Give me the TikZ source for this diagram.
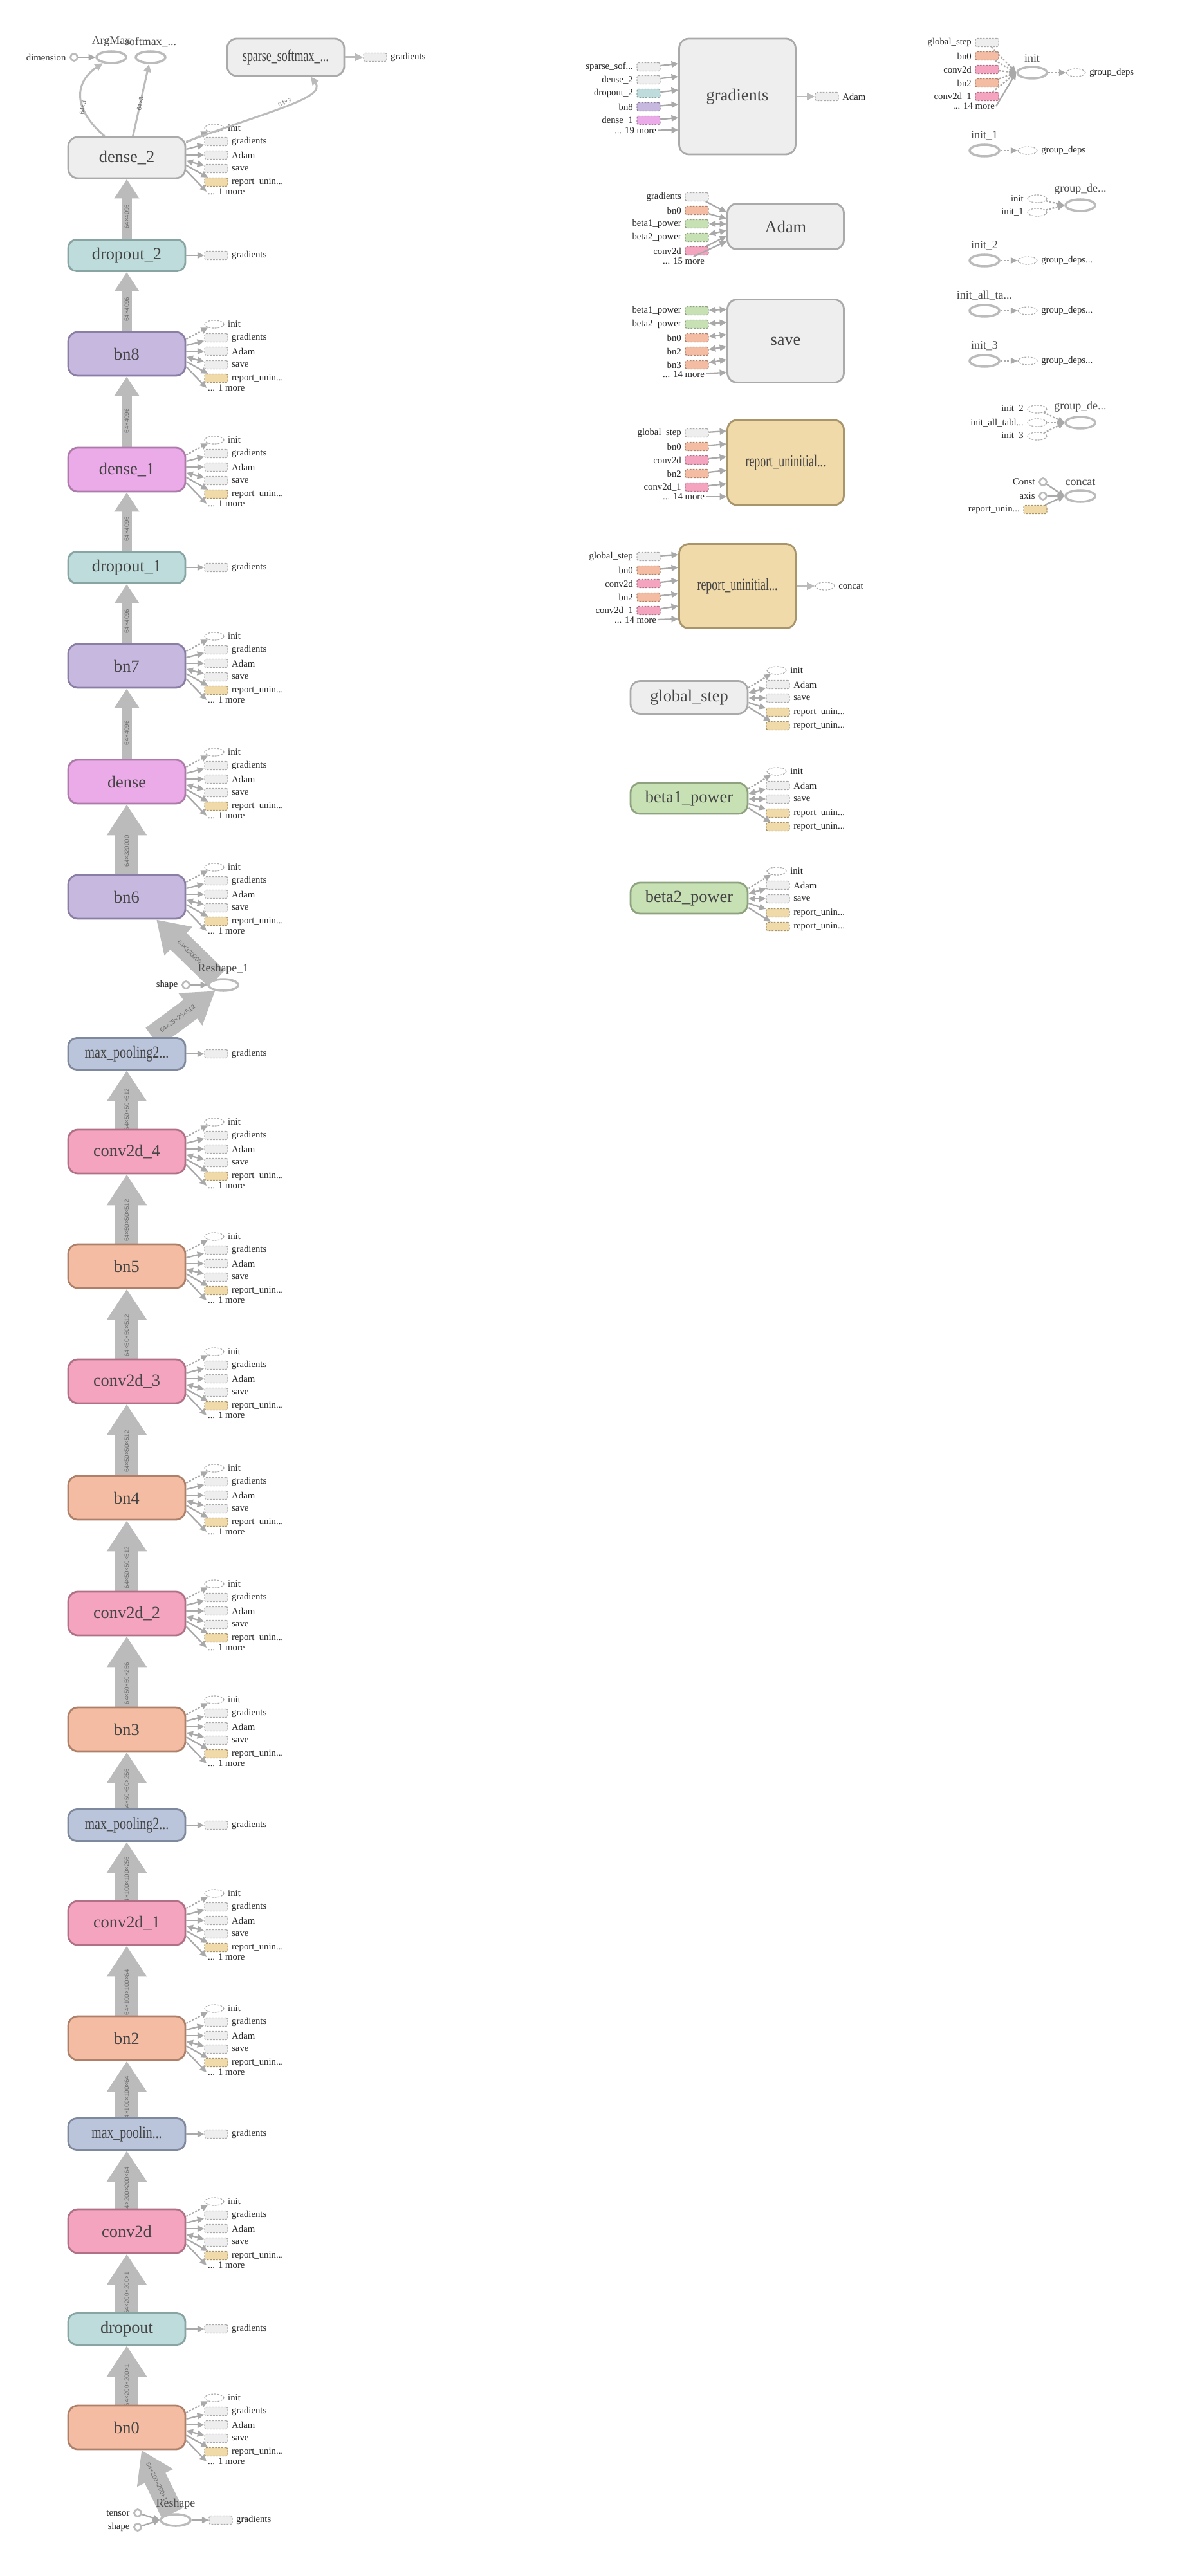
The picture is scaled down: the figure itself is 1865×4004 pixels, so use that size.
\documentclass[tikz,border=0pt]{standalone}
\usepackage{fontspec}
\setmainfont{Liberation Serif}
\newfontfamily\edgesans{Liberation Sans}
\usepackage{graphicx}
\usetikzlibrary{arrows.meta,shapes.geometric}

\definecolor{opgray}{HTML}{EEEEEE}
\definecolor{opgrayline}{HTML}{AAAAAA}
\definecolor{dropfill}{HTML}{BEDCDB}
\definecolor{dropline}{HTML}{88A5A4}
\definecolor{bnfill}{HTML}{F4BDA3}
\definecolor{bnline}{HTML}{AE8069}
\definecolor{bnlatefill}{HTML}{C7B8E0}
\definecolor{bnlateline}{HTML}{8B7EA5}
\definecolor{densefill}{HTML}{EBAAE8}
\definecolor{denseline}{HTML}{AD7BA9}
\definecolor{convfill}{HTML}{F4A4BE}
\definecolor{convline}{HTML}{B07186}
\definecolor{poolfill}{HTML}{BAC5DC}
\definecolor{poolline}{HTML}{7F899D}
\definecolor{repfill}{HTML}{F0DAA9}
\definecolor{repline}{HTML}{A8956B}
\definecolor{betafill}{HTML}{C7E1B5}
\definecolor{betaline}{HTML}{8EA27F}
\definecolor{flowgray}{HTML}{BBBBBB}
\definecolor{tipgray}{HTML}{A9A9A9}
\definecolor{labelgray}{HTML}{444444}

\pgfdeclarelayer{flows}
\pgfsetlayers{flows,main}

\newcommand\squeeze[2]{\scalebox{#1}[1]{#2}}

\tikzset{
  opbox/.style={draw=opgrayline, fill=opgray, rounded corners=0.3cm, line width=1.6pt,
    minimum width=3.64cm, minimum height=1.36cm, inner sep=0pt, text=labelgray,
    font=\fontsize{15}{18}\selectfont},
  flat/.style={minimum height=0.98cm, rounded corners=0.26cm},
  dropbox/.style={opbox, flat, fill=dropfill, draw=dropline},
  bnbox/.style={opbox, fill=bnfill, draw=bnline},
  bnlate/.style={opbox, fill=bnlatefill, draw=bnlateline},
  densebox/.style={opbox, fill=densefill, draw=denseline},
  convbox/.style={opbox, fill=convfill, draw=convline},
  poolbox/.style={opbox, flat, fill=poolfill, draw=poolline},
  repbox/.style={opbox, fill=repfill, draw=repline},
  betabox/.style={opbox, fill=betafill, draw=betaline, minimum height=0.96cm},
  opring/.style={ellipse, draw=flowgray, line width=2pt, fill=white,
    minimum width=0.92cm, minimum height=0.36cm, inner sep=0pt},
  constring/.style={circle, draw=flowgray, line width=1.6pt, fill=white,
    minimum size=0.22cm, inner sep=0pt},
  tag/.style={draw=opgrayline, fill=opgray, dash pattern=on 1.6pt off 1.1pt,
    line width=0.7pt, rounded corners=1.5pt, minimum width=0.72cm,
    minimum height=0.26cm, inner sep=0pt},
  bntag/.style={tag, fill=bnfill, draw=bnline},
  lavtag/.style={tag, fill=bnlatefill, draw=bnlateline},
  densetag/.style={tag, fill=densefill, draw=denseline},
  convtag/.style={tag, fill=convfill, draw=convline},
  droptag/.style={tag, fill=dropfill, draw=dropline},
  reptag/.style={tag, fill=repfill, draw=repline},
  betatag/.style={tag, fill=betafill, draw=betaline},
  ghost/.style={ellipse, draw=opgrayline, fill=white, dash pattern=on 1.6pt off 1.1pt,
    line width=0.7pt, minimum width=0.6cm, minimum height=0.24cm, inner sep=0pt},
  sidetext/.style={font=\fontsize{8.4}{10}\selectfont, inner sep=1pt, text=black!85},
  ringtext/.style={font=\fontsize{10.2}{12}\selectfont, inner sep=1pt, text=black!70},
  edgetext/.style={font=\edgesans\fontsize{5.5}{6}\selectfont, inner sep=0pt, text=black!58},
  fat/.style={draw=flowgray, line width=0.72cm, -{Triangle[width=1.18cm, length=0.96cm]}},
  slim/.style={draw=flowgray, line width=0.32cm, -{Triangle[width=0.74cm, length=0.6cm]}},
  flow/.style={draw=tipgray, line width=1.3pt, -{Triangle[length=6pt, width=5.5pt]}},
  both/.style={flow, {Triangle[length=6pt, width=5.5pt]}-{Triangle[length=6pt, width=5.5pt]}},
  dep/.style={flow, dash pattern=on 1.6pt off 1.4pt},
  output/.style={draw=flowgray, line width=1.7pt, -{Triangle[length=7pt, width=6.5pt]}},
}

% variable outputs beside a main-column op
\newcommand\varitems[2]{%
  \node[ghost, label={[sidetext]right:init}] (#1-init) at (333,{#2-46}) {};
  \node[tag, label={[sidetext]right:gradients}] (#1-grad) at (336,{#2-25}) {};
  \node[tag, label={[sidetext]right:Adam}] (#1-adam) at (336,{#2-4}) {};
  \node[tag, label={[sidetext]right:save}] (#1-save) at (336,{#2+17}) {};
  \node[reptag, label={[sidetext]right:report\_unin...}] (#1-rep) at (336,{#2+38}) {};
  \node[sidetext, anchor=west] (#1-more) at (321,{#2+53}) {... 1 more};
  \draw[dep] ([shift={(0,-23)}]#1.east) -- (#1-init);
  \draw[flow] ([shift={(0,-13)}]#1.east) -- (#1-grad);
  \draw[flow] ([shift={(0,-4)}]#1.east) -- (#1-adam);
  \draw[both] ([shift={(0,5)}]#1.east) -- (#1-save);
  \draw[flow] ([shift={(0,12)}]#1.east) -- (#1-rep);
  \draw[flow] ([shift={(0,20)}]#1.east) -- (#1-more.west);
}

% outputs of the counters in the middle column
\newcommand\stepitems[2]{%
  \node[ghost, label={[sidetext]right:init}] (#1-init) at (1207,{#2-42}) {};
  \node[tag, label={[sidetext]right:Adam}] (#1-adam) at (1209,{#2-20}) {};
  \node[tag, label={[sidetext]right:save}] (#1-save) at (1209,{#2+1}) {};
  \node[reptag, label={[sidetext]right:report\_unin...}] (#1-repa) at (1209,{#2+23}) {};
  \node[reptag, label={[sidetext]right:report\_unin...}] (#1-repb) at (1209,{#2+44}) {};
  \draw[dep] ([shift={(0,-15)}]#1.east) -- (#1-init);
  \draw[both] ([shift={(0,-7)}]#1.east) -- (#1-adam);
  \draw[both] ([shift={(0,1)}]#1.east) -- (#1-save);
  \draw[flow] ([shift={(0,8)}]#1.east) -- (#1-repa);
  \draw[flow] ([shift={(0,15)}]#1.east) -- (#1-repb);
}

\begin{document}
\begin{tikzpicture}[x=0.02cm, y=-0.02cm, label distance=2pt]
    \useasboundingbox (0,0) rectangle (1865,4004);

    % Main column, bottom up
    \node[bnbox] (bn0) at (197,3773) {bn0};
    \node[dropbox] (dropout) at (197,3620) {dropout};
    \node[convbox] (conv2d) at (197,3468) {conv2d};
    \node[poolbox] (poolA) at (197,3317) {\squeeze{0.75}{max\_poolin...}};
    \node[bnbox] (bn2) at (197,3168) {bn2};
    \node[convbox] (conv2d1) at (197,2989) {conv2d\_1};
    \node[poolbox] (poolB) at (197,2837) {\squeeze{0.76}{max\_pooling2...}};
    \node[bnbox] (bn3) at (197,2688) {bn3};
    \node[convbox] (conv2d2) at (197,2508) {conv2d\_2};
    \node[bnbox] (bn4) at (197,2328) {bn4};
    \node[convbox] (conv2d3) at (197,2147) {conv2d\_3};
    \node[bnbox] (bn5) at (197,1968) {bn5};
    \node[convbox] (conv2d4) at (197,1790) {conv2d\_4};
    \node[poolbox] (poolC) at (197,1638) {\squeeze{0.76}{max\_pooling2...}};
    \node[bnlate] (bn6) at (197,1394) {bn6};
    \node[densebox] (dense) at (197,1215) {dense};
    \node[bnlate] (bn7) at (197,1035) {bn7};
    \node[dropbox] (dropout1) at (197,882) {dropout\_1};
    \node[densebox] (dense1) at (197,730) {dense\_1};
    \node[bnlate] (bn8) at (197,550) {bn8};
    \node[dropbox] (dropout2) at (197,397) {dropout\_2};
    \node[opbox, minimum height=1.28cm] (dense2) at (197,245) {dense\_2};

    % Reshape ops
    \node[opring, label={[ringtext]above:Reshape}] (reshape) at (273,3917) {};
    \node[constring, label={[sidetext]left:tensor}] (tensor) at (214,3906) {};
    \node[constring, label={[sidetext]left:shape}] (shape) at (214,3928) {};
    \node[tag, label={[sidetext]right:gradients}] (reshape-grad) at (343,3917) {};
    \draw[flow] (tensor) -- (reshape.west);
    \draw[flow] (shape) -- (reshape.west);
    \draw[flow] (reshape) -- (reshape-grad);

    \node[opring, label={[ringtext]above:Reshape\_1}] (reshape1) at (347,1531) {};
    \node[constring, label={[sidetext]left:shape}] (shape1) at (289,1531) {};
    \draw[flow] (shape1) -- (reshape1);

    % Tensor flow, kept under the labels
    \begin{pgfonlayer}{flows}
    \draw[fat] (reshape) -- ([shift={(23,0)}]bn0.south) node[edgetext, pos=0.5, sloped] {64×200×200×1};
    \draw[fat] (bn0) -- (dropout) node[edgetext, pos=0.33, rotate=90] {64×200×200×1};
    \draw[fat] (dropout) -- (conv2d) node[edgetext, pos=0.33, rotate=90] {64×200×200×1};
    \draw[fat] (conv2d) -- (poolA) node[edgetext, pos=0.33, rotate=90] {64×200×200×64};
    \draw[fat] (poolA) -- (bn2) node[edgetext, pos=0.33, rotate=90] {64×100×100×64};
    \draw[fat] (bn2) -- (conv2d1) node[edgetext, pos=0.33, rotate=90] {64×100×100×64};
    \draw[fat] (conv2d1) -- (poolB) node[edgetext, pos=0.33, rotate=90] {64×100×100×256};
    \draw[fat] (poolB) -- (bn3) node[edgetext, pos=0.33, rotate=90] {64×50×50×256};
    \draw[fat] (bn3) -- (conv2d2) node[edgetext, pos=0.33, rotate=90] {64×50×50×256};
    \draw[fat] (conv2d2) -- (bn4) node[edgetext, pos=0.33, rotate=90] {64×50×50×512};
    \draw[fat] (bn4) -- (conv2d3) node[edgetext, pos=0.33, rotate=90] {64×50×50×512};
    \draw[fat] (conv2d3) -- (bn5) node[edgetext, pos=0.33, rotate=90] {64×50×50×512};
    \draw[fat] (bn5) -- (conv2d4) node[edgetext, pos=0.33, rotate=90] {64×50×50×512};
    \draw[fat] (conv2d4) -- (poolC) node[edgetext, pos=0.33, rotate=90] {64×50×50×512};
    \draw[fat] ([shift={(40,0)}]poolC.north) -- (reshape1) node[edgetext, pos=0.4, sloped] {64×25×25×512};
    \draw[fat] (reshape1) -- ([shift={(46,0)}]bn6.south) node[edgetext, pos=0.45, sloped] {64×320000};
    \draw[fat] (bn6) -- (dense) node[edgetext, pos=0.33, rotate=90] {64×320000};
    \draw[slim] (dense) -- (bn7) node[edgetext, pos=0.37, rotate=90] {64×4096};
    \draw[slim] (bn7) -- (dropout1) node[edgetext, pos=0.37, rotate=90] {64×4096};
    \draw[slim] (dropout1) -- (dense1) node[edgetext, pos=0.37, rotate=90] {64×4096};
    \draw[slim] (dense1) -- (bn8) node[edgetext, pos=0.37, rotate=90] {64×4096};
    \draw[slim] (bn8) -- (dropout2) node[edgetext, pos=0.37, rotate=90] {64×4096};
    \draw[slim] (dropout2) -- (dense2) node[edgetext, pos=0.37, rotate=90] {64×4096};
    \end{pgfonlayer}

    % Variables beside the ops
    \varitems{bn0}{3773}
    \varitems{conv2d}{3468}
    \varitems{bn2}{3168}
    \varitems{conv2d1}{2989}
    \varitems{bn3}{2688}
    \varitems{conv2d2}{2508}
    \varitems{bn4}{2328}
    \varitems{conv2d3}{2147}
    \varitems{bn5}{1968}
    \varitems{conv2d4}{1790}
    \varitems{bn6}{1394}
    \varitems{dense}{1215}
    \varitems{bn7}{1035}
    \varitems{dense1}{730}
    \varitems{bn8}{550}
    \varitems{dense2}{245}

    % Gradient outputs of stateless ops
    \node[tag, label={[sidetext]right:gradients}] (dropout-grad) at (336,3620) {};
    \node[tag, label={[sidetext]right:gradients}] (poolA-grad) at (336,3317) {};
    \node[tag, label={[sidetext]right:gradients}] (poolB-grad) at (336,2837) {};
    \node[tag, label={[sidetext]right:gradients}] (poolC-grad) at (336,1638) {};
    \node[tag, label={[sidetext]right:gradients}] (dropout1-grad) at (336,882) {};
    \node[tag, label={[sidetext]right:gradients}] (dropout2-grad) at (336,397) {};
    \draw[flow] (dropout) -- (dropout-grad);
    \draw[flow] (poolA) -- (poolA-grad);
    \draw[flow] (poolB) -- (poolB-grad);
    \draw[flow] (poolC) -- (poolC-grad);
    \draw[flow] (dropout1) -- (dropout1-grad);
    \draw[flow] (dropout2) -- (dropout2-grad);

    % Head of the network
    \node[constring, label={[sidetext]left:dimension}] (dimension) at (115,89) {};
    \node[opring, label={[ringtext]above:ArgMax}] (argmax) at (173,89) {};
    \node[opring, label={[ringtext]above:softmax\_...}] (softmax) at (234,89) {};
    \node[opbox, minimum height=1.16cm] (sparse) at (444,89) {\squeeze{0.68}{sparse\_softmax\_...}};
    \node[tag, label={[sidetext]right:gradients}] (sparse-grad) at (583,89) {};
    \draw[flow] (dimension) -- (argmax);
    \draw[output] (dense2.136) .. controls (112,168) and (116,128) .. (argmax)
        node[edgetext, pos=0.35, rotate=80] {64×3};
    \draw[output] (dense2.74) -- (softmax) node[edgetext, pos=0.45, rotate=80] {64×3};
    \draw[output] (dense2.15) .. controls (420,172) and (508,152) .. ([shift={(39,0)}]sparse.south)
        node[edgetext, pos=0.5, sloped, above] {64×3};
    \draw[output] (sparse) -- (sparse-grad);

    % gradients
    \node[opbox, minimum width=3.62cm, minimum height=3.6cm] (grads) at (1146,150) {gradients};
    \node[tag, label={[sidetext]left:sparse\_sof...}] (grads-in1) at (1008,104) {};
    \node[tag, label={[sidetext]left:dense\_2}] (grads-in2) at (1008,124) {};
    \node[droptag, label={[sidetext]left:dropout\_2}] (grads-in3) at (1008,145) {};
    \node[lavtag, label={[sidetext]left:bn8}] (grads-in4) at (1008,166) {};
    \node[densetag, label={[sidetext]left:dense\_1}] (grads-in5) at (1008,187) {};
    \node[sidetext, anchor=east] (grads-more) at (1022,203) {... 19 more};
    \draw[flow] (grads-in1) -- ([shift={(0,-51)}]grads.west);
    \draw[flow] (grads-in2) -- ([shift={(0,-31)}]grads.west);
    \draw[flow] (grads-in3) -- ([shift={(0,-10)}]grads.west);
    \draw[flow] (grads-in4) -- ([shift={(0,12)}]grads.west);
    \draw[flow] (grads-in5) -- ([shift={(0,33)}]grads.west);
    \draw[flow] (grads-more) -- ([shift={(0,52)}]grads.west);
    \node[tag, label={[sidetext]right:Adam}] (grads-adam) at (1285,150) {};
    \draw[output] (grads) -- (grads-adam);

    % Adam
    \node[opbox, minimum width=3.62cm, minimum height=1.42cm] (adam) at (1221,352) {Adam};
    \node[tag, label={[sidetext]left:gradients}] (adam-in1) at (1083,306) {};
    \node[bntag, label={[sidetext]left:bn0}] (adam-in2) at (1083,327) {};
    \node[betatag, label={[sidetext]left:beta1\_power}] (adam-in3) at (1083,348) {};
    \node[betatag, label={[sidetext]left:beta2\_power}] (adam-in4) at (1083,369) {};
    \node[convtag, label={[sidetext]left:conv2d}] (adam-in5) at (1083,390) {};
    \node[sidetext, anchor=east] (adam-more) at (1097,406) {... 15 more};
    \draw[flow] (adam-in1) -- ([shift={(0,-22)}]adam.west);
    \draw[flow] (adam-in2) -- ([shift={(0,-12)}]adam.west);
    \draw[both] (adam-in3) -- ([shift={(0,-4)}]adam.west);
    \draw[both] (adam-in4) -- ([shift={(0,6)}]adam.west);
    \draw[flow] (adam-in5) -- ([shift={(0,15)}]adam.west);
    \draw[flow] (adam-more) -- ([shift={(0,23)}]adam.west);

    % save
    \node[opbox, minimum width=3.62cm, minimum height=2.58cm] (save) at (1221,530) {save};
    \node[betatag, label={[sidetext]left:beta1\_power}] (save-in1) at (1083,483) {};
    \node[betatag, label={[sidetext]left:beta2\_power}] (save-in2) at (1083,504) {};
    \node[bntag, label={[sidetext]left:bn0}] (save-in3) at (1083,525) {};
    \node[bntag, label={[sidetext]left:bn2}] (save-in4) at (1083,546) {};
    \node[bntag, label={[sidetext]left:bn3}] (save-in5) at (1083,567) {};
    \node[sidetext, anchor=east] (save-more) at (1097,582) {... 14 more};
    \draw[both] (save-in1) -- ([shift={(0,-49)}]save.west);
    \draw[both] (save-in2) -- ([shift={(0,-29)}]save.west);
    \draw[both] (save-in3) -- ([shift={(0,-10)}]save.west);
    \draw[both] (save-in4) -- ([shift={(0,9)}]save.west);
    \draw[both] (save-in5) -- ([shift={(0,29)}]save.west);
    \draw[flow] (save-more) -- ([shift={(0,49)}]save.west);

    % report_uninitialized (upper)
    \node[repbox, minimum width=3.62cm, minimum height=2.64cm] (repA) at (1221,719) {\squeeze{0.68}{report\_uninitial...}};
    \node[tag, label={[sidetext]left:global\_step}] (repA-in1) at (1083,673) {};
    \node[bntag, label={[sidetext]left:bn0}] (repA-in2) at (1083,694) {};
    \node[convtag, label={[sidetext]left:conv2d}] (repA-in3) at (1083,715) {};
    \node[bntag, label={[sidetext]left:bn2}] (repA-in4) at (1083,736) {};
    \node[convtag, label={[sidetext]left:conv2d\_1}] (repA-in5) at (1083,757) {};
    \node[sidetext, anchor=east] (repA-more) at (1097,772) {... 14 more};
    \draw[flow] (repA-in1) -- ([shift={(0,-49)}]repA.west);
    \draw[flow] (repA-in2) -- ([shift={(0,-29)}]repA.west);
    \draw[flow] (repA-in3) -- ([shift={(0,-9)}]repA.west);
    \draw[flow] (repA-in4) -- ([shift={(0,12)}]repA.west);
    \draw[flow] (repA-in5) -- ([shift={(0,33)}]repA.west);
    \draw[flow] (repA-more) -- ([shift={(0,53)}]repA.west);

    % report_uninitialized (lower)
    \node[repbox, minimum width=3.62cm, minimum height=2.62cm] (repB) at (1146,911) {\squeeze{0.68}{report\_uninitial...}};
    \node[tag, label={[sidetext]left:global\_step}] (repB-in1) at (1008,865) {};
    \node[bntag, label={[sidetext]left:bn0}] (repB-in2) at (1008,886) {};
    \node[convtag, label={[sidetext]left:conv2d}] (repB-in3) at (1008,907) {};
    \node[bntag, label={[sidetext]left:bn2}] (repB-in4) at (1008,928) {};
    \node[convtag, label={[sidetext]left:conv2d\_1}] (repB-in5) at (1008,949) {};
    \node[sidetext, anchor=east] (repB-more) at (1022,964) {... 14 more};
    \draw[flow] (repB-in1) -- ([shift={(0,-49)}]repB.west);
    \draw[flow] (repB-in2) -- ([shift={(0,-29)}]repB.west);
    \draw[flow] (repB-in3) -- ([shift={(0,-9)}]repB.west);
    \draw[flow] (repB-in4) -- ([shift={(0,12)}]repB.west);
    \draw[flow] (repB-in5) -- ([shift={(0,31)}]repB.west);
    \draw[flow] (repB-more) -- ([shift={(0,51)}]repB.west);
    \node[ghost, label={[sidetext]right:concat}] (repB-concat) at (1282,911) {};
    \draw[output] (repB) -- (repB-concat);

    % Counters
    \node[opbox, minimum height=1.02cm] (gstep) at (1071,1084) {global\_step};
    \node[betabox] (beta1) at (1071,1241) {beta1\_power};
    \node[betabox] (beta2) at (1071,1396) {beta2\_power};
    \stepitems{gstep}{1084}
    \stepitems{beta1}{1241}
    \stepitems{beta2}{1396}

    % init
    \node[opring, label={[ringtext]above:init}] (init) at (1604,113) {};
    \node[tag, label={[sidetext]left:global\_step}] (init-in1) at (1534,66) {};
    \node[bntag, label={[sidetext]left:bn0}] (init-in2) at (1534,87) {};
    \node[convtag, label={[sidetext]left:conv2d}] (init-in3) at (1534,108) {};
    \node[bntag, label={[sidetext]left:bn2}] (init-in4) at (1534,129) {};
    \node[convtag, label={[sidetext]left:conv2d\_1}] (init-in5) at (1534,150) {};
    \node[sidetext, anchor=east] (init-more) at (1548,165) {... 14 more};
    \draw[dep] (init-in1) -- (init.west);
    \draw[dep] (init-in2) -- (init.west);
    \draw[dep] (init-in3) -- (init.west);
    \draw[dep] (init-in4) -- (init.west);
    \draw[dep] (init-in5) -- (init.west);
    \draw[flow] (init-more.east) -- (init.west);
    \node[ghost, label={[sidetext]right:group\_deps}] (init-gd) at (1672,113) {};
    \draw[dep] (init) -- (init-gd);

    % init_1
    \node[opring, label={[ringtext]above:init\_1}] (initone) at (1530,234) {};
    \node[ghost, label={[sidetext]right:group\_deps}] (initone-gd) at (1597,234) {};
    \draw[dep] (initone) -- (initone-gd);

    % group_deps (upper)
    \node[opring, label={[ringtext]above:group\_de...}] (groupA) at (1679,319) {};
    \node[ghost, label={[sidetext]left:init}] (groupA-in1) at (1612,309) {};
    \node[ghost, label={[sidetext]left:init\_1}] (groupA-in2) at (1612,330) {};
    \draw[dep] (groupA-in1) -- (groupA.west);
    \draw[dep] (groupA-in2) -- (groupA.west);

    % init_2, init_all_tables, init_3
    \node[opring, label={[ringtext]above:init\_2}] (inittwo) at (1530,405) {};
    \node[ghost, label={[sidetext]right:group\_deps...}] (inittwo-gd) at (1597,405) {};
    \draw[dep] (inittwo) -- (inittwo-gd);
    \node[opring, label={[ringtext]above:init\_all\_ta...}] (inittab) at (1530,483) {};
    \node[ghost, label={[sidetext]right:group\_deps...}] (inittab-gd) at (1597,483) {};
    \draw[dep] (inittab) -- (inittab-gd);
    \node[opring, label={[ringtext]above:init\_3}] (initthree) at (1530,561) {};
    \node[ghost, label={[sidetext]right:group\_deps...}] (initthree-gd) at (1597,561) {};
    \draw[dep] (initthree) -- (initthree-gd);

    % group_deps (lower)
    \node[opring, label={[ringtext]above:group\_de...}] (groupB) at (1679,657) {};
    \node[ghost, label={[sidetext]left:init\_2}] (groupB-in1) at (1612,636) {};
    \node[ghost, label={[sidetext]left:init\_all\_tabl...}] (groupB-in2) at (1612,657) {};
    \node[ghost, label={[sidetext]left:init\_3}] (groupB-in3) at (1612,678) {};
    \draw[dep] (groupB-in1) -- (groupB.west);
    \draw[dep] (groupB-in2) -- (groupB.west);
    \draw[dep] (groupB-in3) -- (groupB.west);

    % concat
    \node[opring, label={[ringtext]above:concat}] (concat) at (1679,771) {};
    \node[constring, label={[sidetext]left:Const}] (const) at (1621,749) {};
    \node[constring, label={[sidetext]left:axis}] (axis) at (1621,771) {};
    \node[reptag, label={[sidetext]left:report\_unin...}] (concat-rep) at (1609,792) {};
    \draw[flow] (const) -- (concat.west);
    \draw[flow] (axis) -- (concat.west);
    \draw[flow] (concat-rep) -- (concat.west);
\end{tikzpicture}
\end{document}
